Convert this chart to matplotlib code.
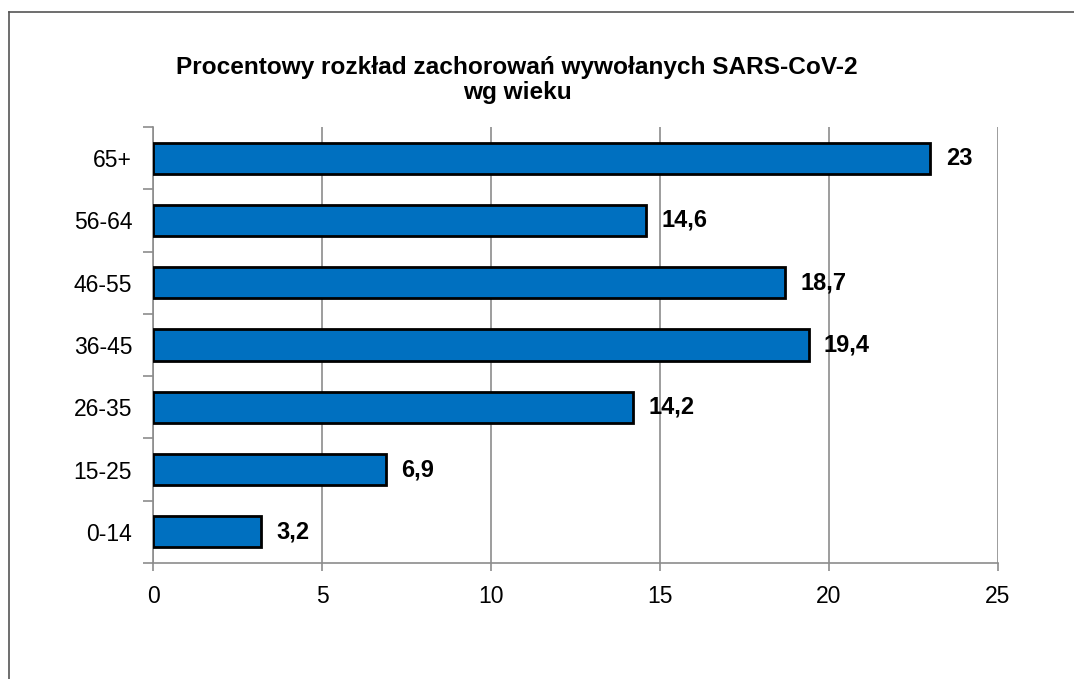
import matplotlib
matplotlib.use('Agg')
import matplotlib.pyplot as plt
from matplotlib.lines import Line2D

plt.rcParams['font.family'] = 'sans-serif'
plt.rcParams['font.sans-serif'] = ['Liberation Sans', 'DejaVu Sans']

categories = ['0-14', '15-25', '26-35', '36-45', '46-55', '56-64', '65+']
values = [3.2, 6.9, 14.2, 19.4, 18.7, 14.6, 23]
value_labels = ['3,2', '6,9', '14,2', '19,4', '18,7', '14,6', '23']
xticks = [0, 5, 10, 15, 20, 25]

W, H = 1074, 679
fig = plt.figure(figsize=(W / 100, H / 100), dpi=100)
ax = fig.add_axes([153 / W, 1 - 563 / H, (998 - 153) / W, (563 - 127) / H])

grey = '#8c8c8c'
ypos = list(range(len(categories)))
ax.barh(ypos, values, height=0.5, color='#0070C0', edgecolor='black',
        linewidth=2, zorder=3)

for y, v, lab in zip(ypos, values, value_labels):
    ax.annotate(lab, (v, y), xytext=(11, 0), textcoords='offset points',
                ha='left', va='center', fontsize=17, fontweight='bold')

ax.set_xlim(0, 25)
ax.set_ylim(-0.5, len(categories) - 0.5)
ax.set_xticks(xticks)
ax.set_xticklabels([str(t) for t in xticks], fontsize=16.5)
ax.set_yticks(ypos)
ax.set_yticklabels(categories, fontsize=16.5)
ax.set_yticks([i - 0.5 for i in range(len(categories) + 1)], minor=True)
ax.tick_params(axis='y', which='major', length=0, pad=15)
ax.tick_params(axis='y', which='minor', length=7, color=grey, width=1.2)
ax.tick_params(axis='x', length=6, color=grey, width=1.2, pad=10)

ax.grid(axis='x', color=grey, linewidth=1.2, zorder=0)
for s in ['top', 'right']:
    ax.spines[s].set_visible(False)
for s in ['left', 'bottom']:
    ax.spines[s].set_color(grey)
    ax.spines[s].set_linewidth(1.2)

fig.text(517 / W, 1 - 80 / H, 'Procentowy rozkład zachorowań wywołanych SARS-CoV-2\nwg wieku',
         ha='center', va='center', fontsize=17.6, fontweight='bold', linespacing=1.15)

# frame of the chart area (only the top and left edges are inside the picture)
fig.add_artist(Line2D([9 / W, 9 / W], [0, 1 - 12 / H], color='#555555', linewidth=1.2))
fig.add_artist(Line2D([9 / W, 1], [1 - 12 / H, 1 - 12 / H], color='#555555', linewidth=1.2))

fig.savefig('out.png', dpi=100)
